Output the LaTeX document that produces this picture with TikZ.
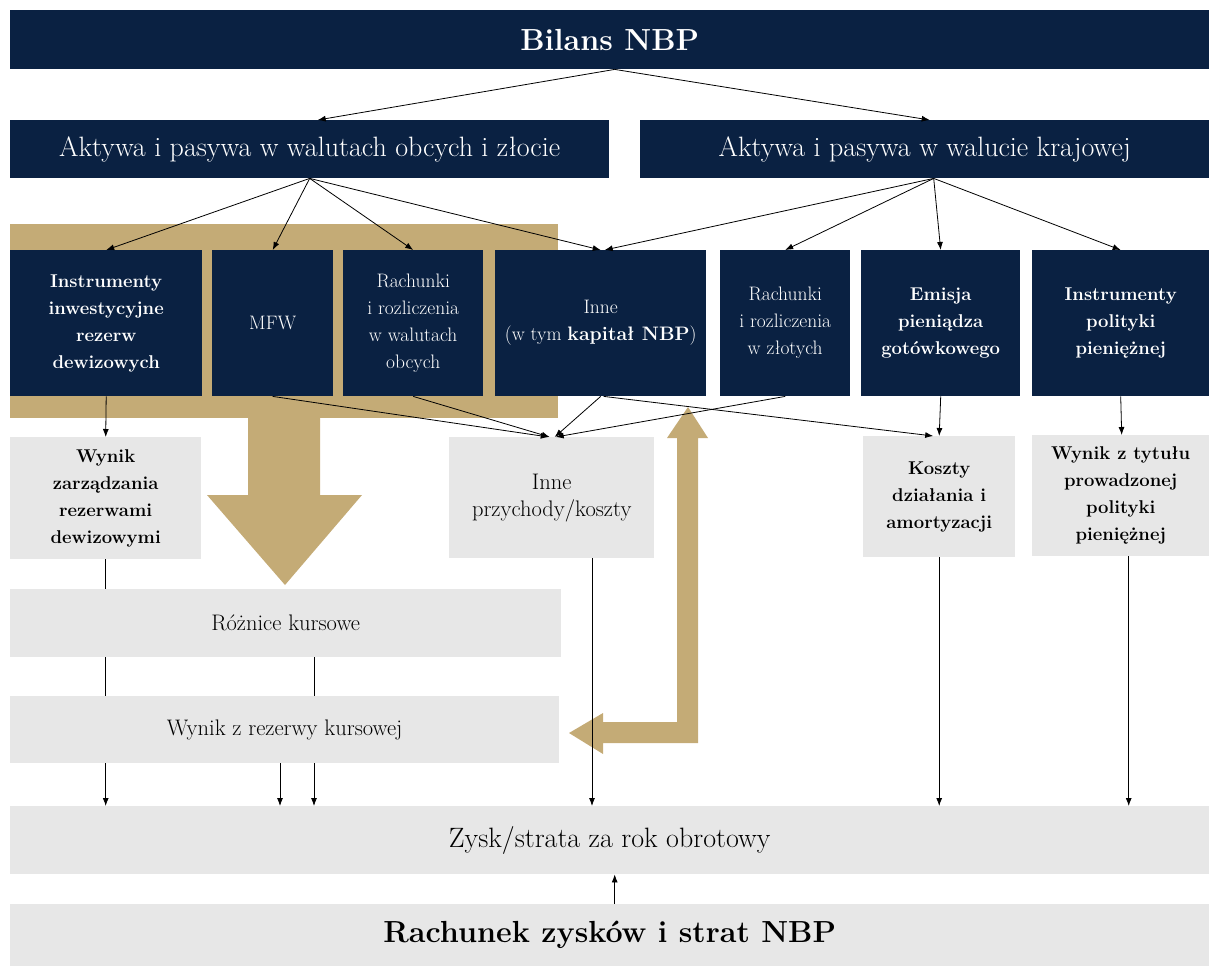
\documentclass[tikz,border=0pt]{standalone}
\usetikzlibrary{arrows.meta}
\definecolor{nbpnavy}{RGB}{10,33,66}
\definecolor{nbpgold}{RGB}{196,171,118}
\definecolor{nbpgray}{RGB}{231,231,231}
\begin{document}
\begin{tikzpicture}[x=1pt,y=-1pt,
    box/.style={anchor=north west, inner sep=0pt, align=center},
    navybox/.style={box, fill=nbpnavy, text=white},
    greybox/.style={box, fill=nbpgray, text=black},
    fbig/.style={font=\fontsize{30.5}{36}\selectfont\bfseries},
    fmid/.style={font=\fontsize{28}{32}\selectfont},
    fnorm/.style={font=\fontsize{22.5}{27}\selectfont},
    fsmall/.style={font=\fontsize{19.5}{27}\selectfont},
    fbold/.style={font=\fontsize{18.5}{27}\selectfont\bfseries},
    link/.style={-{Latex[length=8pt,width=6pt]}, line width=0.8pt},
    plain/.style={line width=0.8pt}]
  \useasboundingbox (0,0) rectangle (1209,966);
  % gold band behind the foreign currency items
  \fill[nbpgold] (10,224) rectangle (558,418);

  \node[navybox, fbig, minimum width=1199, minimum height=59] (bilans) at (10,10) {Bilans NBP};
  \node[navybox, fmid, minimum width=599, minimum height=58] (aobce) at (10,120) {Aktywa i pasywa w walutach obcych i złocie};
  \node[navybox, fmid, minimum width=569, minimum height=58] (akraj) at (640,120) {Aktywa i pasywa w walucie krajowej};

  \node[navybox, fbold, minimum width=192, minimum height=146] (instr) at (10,250) {Instrumenty\\inwestycyjne\\rezerw\\dewizowych};
  \node[navybox, fsmall, minimum width=121, minimum height=146] (mfw) at (212,250) {MFW};
  \node[navybox, fsmall, minimum width=140, minimum height=146] (rachob) at (343,250) {Rachunki\\i rozliczenia\\w walutach\\obcych};
  \node[navybox, fsmall, minimum width=211, minimum height=146] (inne) at (495,250) {Inne\\(w tym \textbf{kapitał NBP})};
  \node[navybox, fsmall, minimum width=130, minimum height=146] (rachzl) at (720,250) {Rachunki\\i rozliczenia\\w złotych};
  \node[navybox, fbold, minimum width=159, minimum height=146] (emisja) at (861,250) {Emisja\\pieniądza\\gotówkowego};
  \node[navybox, fbold, minimum width=177, minimum height=146] (instrpol) at (1032,250) {Instrumenty\\polityki\\pieniężnej};

  \node[greybox, fbold, minimum width=191, minimum height=122] (wz) at (10,437) {Wynik\\zarządzania\\rezerwami\\dewizowymi};
  \node[greybox, fnorm, minimum width=205, minimum height=121] (innep) at (449,437) {Inne\\przychody/koszty};
  \node[greybox, fbold, minimum width=152, minimum height=121] (koszty) at (863,436) {Koszty\\działania i\\amortyzacji};
  \node[greybox, fbold, minimum width=177, minimum height=121] (wt) at (1032,435) {Wynik z tytułu\\prowadzonej\\polityki\\pieniężnej};

  \node[greybox, fnorm, minimum width=551, minimum height=68] (roz) at (10,589) {Różnice kursowe};
  \node[greybox, fnorm, minimum width=549, minimum height=67] (wrk) at (10,696) {Wynik z rezerwy kursowej};
  \node[greybox, fmid, minimum width=1199, minimum height=68] (zysk) at (10,806) {Zysk/strata za rok obrotowy};
  \node[greybox, fbig, minimum width=1199, minimum height=62] (rzis) at (10,904) {Rachunek zysków i strat NBP};

  % wide gold arrows
  \fill[nbpgold] (248,410) -- (320,410) -- (320,495) -- (362,495) -- (285,585)
    -- (207,495) -- (248,495) -- cycle;
  \fill[nbpgold] (688,407) -- (708,438) -- (698,438) -- (698,743) -- (603,743)
    -- (603,754) -- (569,733) -- (603,713) -- (603,722) -- (677,722)
    -- (677,438) -- (667,438) -- cycle;

  \coordinate (xa) at (280,0);
  \coordinate (xb) at (314,0);
  \coordinate (xc) at (592,0);

  \draw[link] ([xshift=5]bilans.south) -- ([xshift=8]aobce.north);
  \draw[link] ([xshift=5]bilans.south) -- ([xshift=5]akraj.north);

  \draw[link] (aobce.south) -- (instr.north);
  \draw[link] (aobce.south) -- (mfw.north);
  \draw[link] (aobce.south) -- (rachob.north);
  \draw[link] (aobce.south) -- (inne.north);
  \draw[link] ([xshift=9]akraj.south) -- ([xshift=4]inne.north);
  \draw[link] ([xshift=9]akraj.south) -- (rachzl.north);
  \draw[link] ([xshift=9]akraj.south) -- (emisja.north);
  \draw[link] ([xshift=9]akraj.south) -- (instrpol.north);

  \draw[link] (instr.south) -- (wz.north);
  \draw[link] (mfw.south) -- ([xshift=-3]innep.north);
  \draw[link] (rachob.south) -- ([xshift=-2]innep.north);
  \draw[link] (inne.south) -- ([xshift=3]innep.north);
  \draw[link] (rachzl.south) -- ([xshift=4]innep.north);
  \draw[link] ([xshift=3]inne.south) -- ([xshift=-6]koszty.north);
  \draw[link] (emisja.south) -- (koszty.north);
  \draw[link] (instrpol.south) -- ([xshift=1]wt.north);

  \draw[plain] (wz.south) -- (wz.south |- roz.north);
  \draw[plain] (wz.south |- roz.south) -- (wz.south |- wrk.north);
  \draw[link] (wz.south |- wrk.south) -- (wz.south |- zysk.north);
  \draw[plain] (roz.south -| xb) -- (wrk.north -| xb);
  \draw[link] (wrk.south -| xb) -- (zysk.north -| xb);
  \draw[link] (wrk.south -| xa) -- (zysk.north -| xa);
  \draw[link] (innep.south -| xc) -- (zysk.north -| xc);
  \draw[link] (koszty.south) -- (koszty.south |- zysk.north);
  \draw[link] ([xshift=8]wt.south) -- ([xshift=8]wt.south |- zysk.north);
  \draw[link] ([xshift=5]rzis.north) -- ([xshift=5]rzis.north |- zysk.south);
\end{tikzpicture}
\end{document}
